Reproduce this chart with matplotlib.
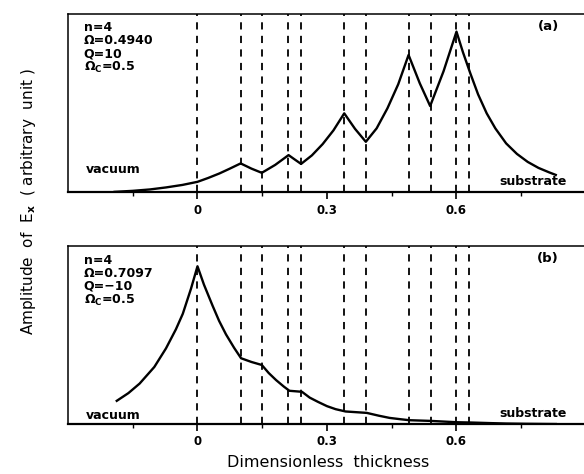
import matplotlib
matplotlib.use('Agg')
import matplotlib.pyplot as plt
from matplotlib.ticker import MultipleLocator

plt.rcParams['font.family'] = 'DejaVu Sans'
plt.rcParams['mathtext.default'] = 'regular'

# layer interfaces (dashed lines)
interfaces = [0, 0.1, 0.15, 0.21, 0.24, 0.34, 0.39, 0.49, 0.54, 0.6, 0.63]

# panel (a) curve
xa = [-0.192, -0.15, -0.11, -0.073, -0.035, 0.0, 0.025, 0.051, 0.075, 0.1, 0.125, 0.149,
      0.18, 0.211, 0.225, 0.24, 0.265, 0.29, 0.315, 0.34, 0.365, 0.39, 0.415, 0.44,
      0.465, 0.489, 0.515, 0.539, 0.57, 0.6, 0.615, 0.632, 0.65, 0.67, 0.69, 0.715,
      0.74, 0.765, 0.79, 0.815, 0.83]
ya = [0.6, 1.6, 3.0, 5.0, 7.5, 10.6, 14.5, 19.0, 23.8, 29.0, 23.8, 19.6,
      27.5, 37.3, 33.0, 28.5, 37.0, 48.3, 62.0, 79.0, 63.5, 50.6, 64.0, 84.0,
      108.0, 137.3, 109.0, 86.3, 121.0, 160.6, 140.0, 119.0, 98.0, 79.0, 64.0, 49.0,
      38.5, 30.5, 24.5, 20.0, 17.5]

# panel (b) curve
xb = [-0.187, -0.16, -0.134, -0.1, -0.073, -0.05, -0.034, -0.015, 0.0, 0.015, 0.035,
      0.05, 0.066, 0.085, 0.101, 0.125, 0.149, 0.165, 0.182, 0.2, 0.213, 0.242, 0.26,
      0.279, 0.3, 0.32, 0.343, 0.392, 0.42, 0.445, 0.47, 0.491, 0.541, 0.6, 0.634,
      0.68, 0.715, 0.76, 0.8, 0.83]
yb = [23.3, 31.0, 40.5, 57.0, 75.5, 94.5, 110.0, 135.0, 157.3, 139.0, 118.0,
      103.0, 89.5, 76.0, 65.7, 62.0, 59.0, 51.0, 44.0, 37.5, 33.3, 32.3, 26.5,
      22.3, 18.0, 15.0, 12.7, 11.3, 8.5, 6.3, 5.0, 4.0, 3.3, 2.0, 1.7,
      1.1, 0.7, 0.45, 0.3, 0.2]

params_a = ['n=4', 'Ω=0.4940', 'Q=10', 'Ω$_{\\mathbf{C}}$=0.5']
params_b = ['n=4', 'Ω=0.7097', 'Q=\u221210', 'Ω$_{\\mathbf{C}}$=0.5']

fig = plt.figure(figsize=(5.84, 4.74), dpi=100)
ax1 = fig.add_axes([0.1164, 0.594, 0.887, 0.376])
ax2 = fig.add_axes([0.1164, 0.105, 0.887, 0.375])

for ax, x, y, params, tag, ytop in [(ax1, xa, ya, params_a, '(a)', 178),
                                    (ax2, xb, yb, params_b, '(b)', 177)]:
    for xi in interfaces:
        ax.axvline(xi, color='black', lw=1.3, ls=(0, (4, 3.5)))
    ax.plot(x, y, color='black', lw=1.7)
    ax.set_xlim(-0.3, 0.9)
    ax.set_ylim(0, ytop)
    ax.set_yticks([])
    ax.set_xticks([-0.15, 0.15, 0.45, 0.75], minor=True)
    ax.set_xticks([0, 0.3, 0.6])
    ax.set_xticklabels(['0', '0.3', '0.6'], fontweight='bold', fontsize=8.5)
    ax.tick_params(axis='x', which='major', direction='out', length=5, width=1.2, pad=3)
    ax.tick_params(axis='x', which='minor', direction='out', length=3, width=1.0)
    for s in ax.spines.values():
        s.set_linewidth(1.1)
    ax.spines['bottom'].set_linewidth(1.6)
    ax.text(0.03, 0.96, '\n'.join(params), transform=ax.transAxes, fontsize=9,
            fontweight='bold', va='top', ha='left', linespacing=1.0)
    ax.text(0.948, 0.93, tag, transform=ax.transAxes, fontsize=9.5,
            fontweight='bold', va='center', ha='right')
    ax.text(0.035, 0.13 if ax is ax1 else 0.05, 'vacuum', transform=ax.transAxes,
            fontsize=9, fontweight='bold', va='center', ha='left')
    ax.text(0.963, 0.06, 'substrate', transform=ax.transAxes, fontsize=9,
            fontweight='bold', va='center', ha='right')

fig.text(0.048, 0.575, 'Amplitude  of  E$_{\\mathbf{x}}$  ( arbitrary  unit )', rotation=90,
         fontsize=11, va='center', ha='center')
fig.text(0.562, 0.025, 'Dimensionless  thickness', fontsize=11.5, va='center', ha='center')

fig.savefig('out.png', dpi=100)
